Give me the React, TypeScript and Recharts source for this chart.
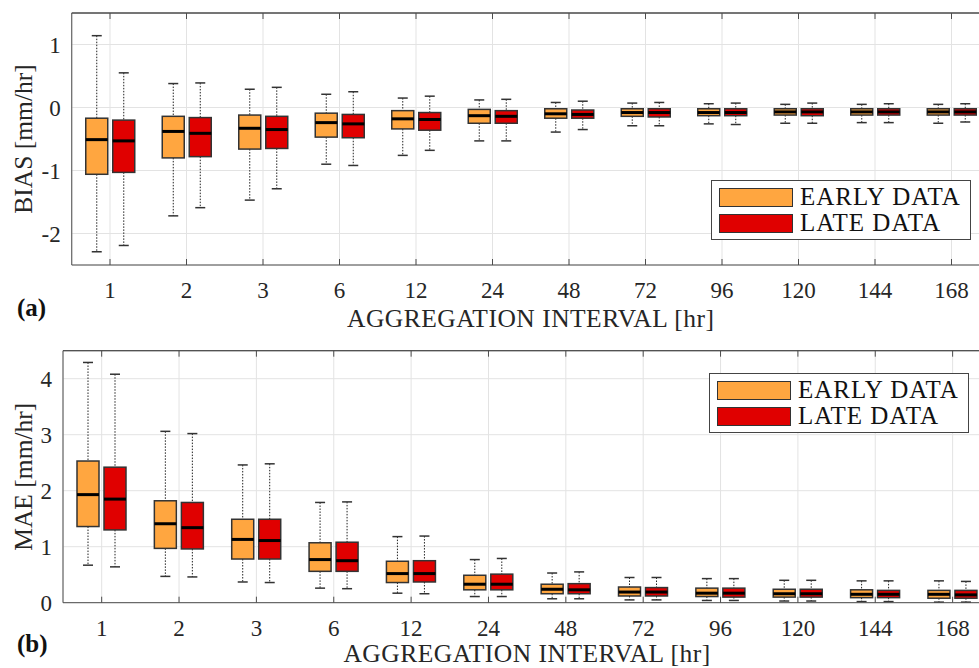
import React from 'react';
import { ComposedChart, Bar, XAxis, YAxis, CartesianGrid, Legend, ReferenceLine } from 'recharts';

const categories = ['1', '2', '3', '6', '12', '24', '48', '72', '96', '120', '144', '168'];

// each entry: [min, q1, median, q3, max]
const biasEarly = [
  [-2.29, -1.06, -0.51, -0.17, 1.14],
  [-1.72, -0.8, -0.38, -0.14, 0.38],
  [-1.47, -0.66, -0.33, -0.12, 0.29],
  [-0.9, -0.47, -0.24, -0.09, 0.21],
  [-0.76, -0.34, -0.18, -0.05, 0.15],
  [-0.53, -0.25, -0.13, -0.03, 0.12],
  [-0.39, -0.17, -0.1, -0.02, 0.08],
  [-0.29, -0.14, -0.08, -0.02, 0.07],
  [-0.26, -0.13, -0.08, -0.02, 0.06],
  [-0.25, -0.12, -0.07, -0.02, 0.05],
  [-0.24, -0.12, -0.07, -0.02, 0.05],
  [-0.25, -0.12, -0.07, -0.02, 0.05],
];

const biasLate = [
  [-2.19, -1.03, -0.53, -0.2, 0.55],
  [-1.59, -0.78, -0.41, -0.16, 0.39],
  [-1.29, -0.65, -0.35, -0.14, 0.32],
  [-0.92, -0.48, -0.26, -0.11, 0.25],
  [-0.68, -0.36, -0.19, -0.08, 0.18],
  [-0.53, -0.25, -0.14, -0.05, 0.13],
  [-0.35, -0.17, -0.11, -0.04, 0.1],
  [-0.29, -0.15, -0.08, -0.02, 0.08],
  [-0.27, -0.13, -0.08, -0.02, 0.07],
  [-0.25, -0.13, -0.07, -0.02, 0.07],
  [-0.24, -0.12, -0.07, -0.02, 0.06],
  [-0.23, -0.12, -0.07, -0.02, 0.06],
];

const maeEarly = [
  [0.67, 1.36, 1.93, 2.53, 4.29],
  [0.47, 0.97, 1.41, 1.82, 3.06],
  [0.37, 0.78, 1.13, 1.49, 2.46],
  [0.26, 0.56, 0.77, 1.07, 1.79],
  [0.17, 0.36, 0.52, 0.74, 1.18],
  [0.11, 0.23, 0.33, 0.49, 0.77],
  [0.07, 0.16, 0.24, 0.33, 0.53],
  [0.05, 0.12, 0.19, 0.28, 0.45],
  [0.04, 0.11, 0.17, 0.26, 0.43],
  [0.03, 0.1, 0.16, 0.24, 0.4],
  [0.02, 0.09, 0.15, 0.23, 0.39],
  [0.01, 0.08, 0.15, 0.22, 0.39],
];

const maeLate = [
  [0.64, 1.3, 1.85, 2.42, 4.08],
  [0.46, 0.96, 1.34, 1.79, 3.02],
  [0.36, 0.78, 1.11, 1.49, 2.48],
  [0.25, 0.56, 0.75, 1.08, 1.8],
  [0.16, 0.37, 0.52, 0.75, 1.19],
  [0.11, 0.23, 0.33, 0.51, 0.79],
  [0.07, 0.16, 0.23, 0.34, 0.55],
  [0.05, 0.12, 0.19, 0.27, 0.45],
  [0.04, 0.1, 0.17, 0.26, 0.43],
  [0.03, 0.1, 0.16, 0.24, 0.4],
  [0.02, 0.09, 0.15, 0.22, 0.39],
  [0.01, 0.08, 0.14, 0.22, 0.38],
];

const biasTicks = [-2, -1, 0, 1];
const maeTicks = [0, 1, 2, 3, 4];

const EARLY = '#FFA640';
const LATE = '#E00000';
const TEXT = '#262626';
const AXIS = '#4d4d4d';
const FONT = '"Liberation Serif", "Times New Roman", serif';

const buildRows = (early: number[][], late: number[][]) =>
  categories.map((cat, i) => ({
    cat,
    early: [early[i][0], early[i][4]],
    late: [late[i][0], late[i][4]],
    earlyStats: early[i],
    lateStats: late[i],
  }));

const biasRows = buildRows(biasEarly, biasLate);
const maeRows = buildRows(maeEarly, maeLate);

// box + whiskers, positioned from the range bar that recharts lays out (min..max)
const boxShape = (statsKey: string) => (props: any) => {
  const { x, y, width, height, payload, fill } = props;
  const s: number[] = payload[statsKey];
  const top = Math.min(y, y + height);
  const bottom = Math.max(y, y + height);
  const span = s[4] - s[0];
  const py = (v: number) => (span === 0 ? top : top + ((bottom - top) * (s[4] - v)) / span);
  const cx = x + width / 2;
  const cap = 5;
  return (
    <g>
      <line x1={cx} x2={cx} y1={py(s[4])} y2={py(s[3])} stroke="#222" strokeWidth={1} strokeDasharray="1.5 1.5" />
      <line x1={cx} x2={cx} y1={py(s[1])} y2={py(s[0])} stroke="#222" strokeWidth={1} strokeDasharray="1.5 1.5" />
      <line x1={cx - cap} x2={cx + cap} y1={py(s[4])} y2={py(s[4])} stroke="#333" strokeWidth={1.5} />
      <line x1={cx - cap} x2={cx + cap} y1={py(s[0])} y2={py(s[0])} stroke="#333" strokeWidth={1.5} />
      <rect x={x} y={py(s[3])} width={width} height={py(s[1]) - py(s[3])} fill={fill} stroke="#333" strokeWidth={1.5} />
      <line x1={x} x2={x + width} y1={py(s[2])} y2={py(s[2])} stroke="#000" strokeWidth={3} />
    </g>
  );
};

const BottomTick = (props: any) => {
  const { x, y, payload } = props;
  return (
    <g>
      <line x1={x} x2={x} y1={y} y2={y - 6} stroke={AXIS} strokeWidth={1} />
      <text x={x} y={y + 33} textAnchor="middle" fontSize={23} fill={TEXT} fontFamily={FONT}>
        {payload.value}
      </text>
    </g>
  );
};

const TopTick = (props: any) => {
  const { x, y } = props;
  return <line x1={x} x2={x} y1={y} y2={y + 6} stroke={AXIS} strokeWidth={1} />;
};

const renderLegend = (props: any) => {
  const { payload } = props;
  return (
    <div
      style={{
        border: '1.5px solid #444',
        background: '#fff',
        padding: '6px 9px 6px 7px',
        fontFamily: FONT,
      }}
    >
      {payload.map((e: any, i: number) => (
        <div key={i} style={{ display: 'flex', alignItems: 'center', height: 20, marginTop: i ? 6 : 0 }}>
          <div style={{ width: 72, height: 17, background: e.color, border: '1.5px solid #333' }} />
          <span
            style={{
              marginLeft: 7,
              fontSize: 25,
              lineHeight: '20px',
              letterSpacing: 1,
              color: '#111',
              whiteSpace: 'nowrap',
            }}
          >
            {e.value}
          </span>
        </div>
      ))}
    </div>
  );
};

interface PanelProps {
  rows: any[];
  domain: [number, number];
  ticks: number[];
  yLabel: string;
  yAxisWidth: number;
  margin: { top: number; right: number; left: number; bottom: number };
  xAxisHeight: number;
  titleOffset: number;
  legendPos: { left: number; top: number };
}

const Panel: React.FC<PanelProps> = ({ rows, domain, ticks, yLabel, yAxisWidth, margin, xAxisHeight, titleOffset, legendPos }) => (
  <ComposedChart width={1000} height={334} data={rows} margin={margin} barSize={22} barGap={5}>
    <CartesianGrid stroke="#e3e3e3" strokeWidth={1} />
    <XAxis
      dataKey="cat"
      interval={0}
      tickLine={false}
      tickSize={0}
      tickMargin={0}
      height={xAxisHeight}
      stroke={AXIS}
      tick={<BottomTick />}
      label={{
        value: 'AGGREGATION INTERVAL [hr]',
        position: 'insideBottom',
        offset: titleOffset,
        fontSize: 25.5,
        fill: TEXT,
        style: { letterSpacing: 0.5 },
      }}
    />
    <XAxis
      xAxisId="top"
      orientation="top"
      dataKey="cat"
      interval={0}
      tickLine={false}
      tickSize={0}
      tickMargin={0}
      height={1}
      stroke={AXIS}
      tick={<TopTick />}
    />
    <YAxis
      type="number"
      domain={domain}
      ticks={ticks}
      width={yAxisWidth}
      tickLine={false}
      tickSize={0}
      tickMargin={11}
      stroke={AXIS}
      tick={{ fontSize: 23, fill: TEXT, fontFamily: FONT }}
      label={{ value: yLabel, angle: -90, position: 'insideLeft', offset: 23, fontSize: 25.5, fill: TEXT, style: { textAnchor: 'middle' } }}
    />
    <ReferenceLine y={domain[1]} stroke={AXIS} strokeWidth={1} />
    <Legend
      layout="vertical"
      verticalAlign="middle"
      align="center"
      wrapperStyle={{ left: legendPos.left, top: legendPos.top, width: 'auto', height: 'auto' }}
      content={renderLegend}
    />
    <Bar dataKey="early" name="EARLY DATA" fill={EARLY} shape={boxShape('earlyStats')} isAnimationActive={false} />
    <Bar dataKey="late" name="LATE DATA" fill={LATE} shape={boxShape('lateStats')} isAnimationActive={false} />
  </ComposedChart>
);

export default function App() {
  return (
    <div
      style={{
        position: 'fixed',
        left: 0,
        top: 0,
        width: 979,
        height: 668,
        overflow: 'hidden',
        background: '#fff',
        fontFamily: FONT,
        color: TEXT,
      }}
    >
      <div style={{ position: 'absolute', left: 0, top: 0 }}>
        <Panel
          rows={biasRows}
          domain={[-2.5, 1.5]}
          ticks={biasTicks}
          yLabel="BIAS [mm/hr]"
          yAxisWidth={71.75}
          margin={{ top: 12, right: 10.25, left: 0, bottom: 0 }}
          xAxisHeight={69}
          titleOffset={7}
          legendPos={{ left: 711, top: 180 }}
        />
      </div>
      <div style={{ position: 'absolute', left: 0, top: 334 }}>
        <Panel
          rows={maeRows}
          domain={[0, 4.5]}
          ticks={maeTicks}
          yLabel="MAE [mm/hr]"
          yAxisWidth={63}
          margin={{ top: 15.7, right: 8.7, left: 0, bottom: 0 }}
          xAxisHeight={65.3}
          titleOffset={6}
          legendPos={{ left: 709, top: 39 }}
        />
      </div>
      <svg width={979} height={668} style={{ position: 'absolute', left: 0, top: 0, pointerEvents: 'none' }}>
        <text x={17} y={316} fontSize={25} fontWeight="bold" fill="#111" fontFamily={FONT}>
          (a)
        </text>
        <text x={17} y={652} fontSize={25} fontWeight="bold" fill="#111" fontFamily={FONT}>
          (b)
        </text>
      </svg>
    </div>
  );
}
